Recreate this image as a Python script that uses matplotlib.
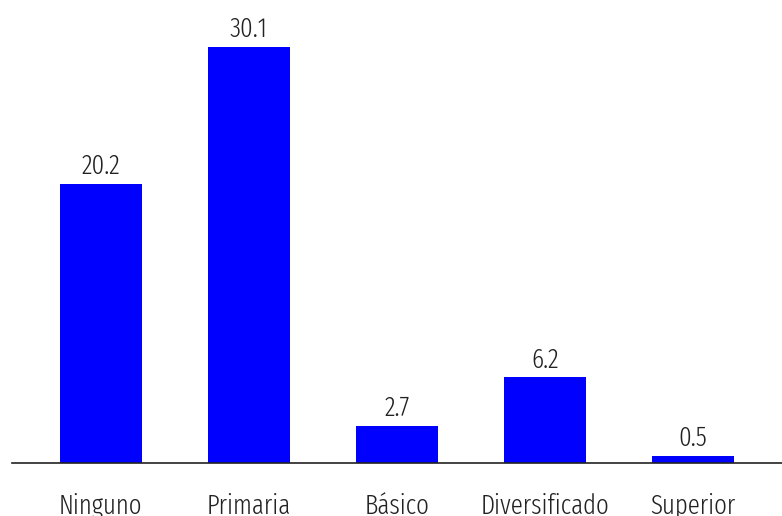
import matplotlib.pyplot as plt
from matplotlib import font_manager

categories = ['Ninguno', 'Primaria', 'Básico', 'Diversificado', 'Superior']
values = [20.2, 30.1, 2.7, 6.2, 0.5]

names = {f.name for f in font_manager.fontManager.ttflist}
family = 'Fira Sans Extra Condensed' if 'Fira Sans Extra Condensed' in names else 'DejaVu Sans'
plt.rcParams['font.family'] = [family, 'DejaVu Sans']
plt.rcParams['font.weight'] = 300

fig = plt.figure(figsize=(7.82, 5.16), dpi=100)
ax = fig.add_axes([12 / 782, (516 - 463) / 516, 770 / 782, 463 / 516])

x = range(len(categories))
bars = ax.bar(x, values, width=0.555, color='#0000ff')
for b, v in zip(bars, values):
    ax.annotate(f'{v:.1f}', (b.get_x() + b.get_width() / 2, v),
                xytext=(0, 7), textcoords='offset points',
                ha='center', va='baseline', fontsize=19.5, color='#222222')

ax.set_xlim(-0.6, 4.6)
ax.set_ylim(0, 33.5)
ax.set_xticks(list(x))
ax.set_xticklabels(categories, fontsize=19.5, color='#222222')
ax.tick_params(axis='x', length=0, pad=21.5)
ax.set_yticks([])
for s in ['top', 'right', 'left']:
    ax.spines[s].set_visible(False)
ax.spines['bottom'].set_color('#222222')
ax.spines['bottom'].set_linewidth(1.2)

fig.savefig('out.png', dpi=100)
